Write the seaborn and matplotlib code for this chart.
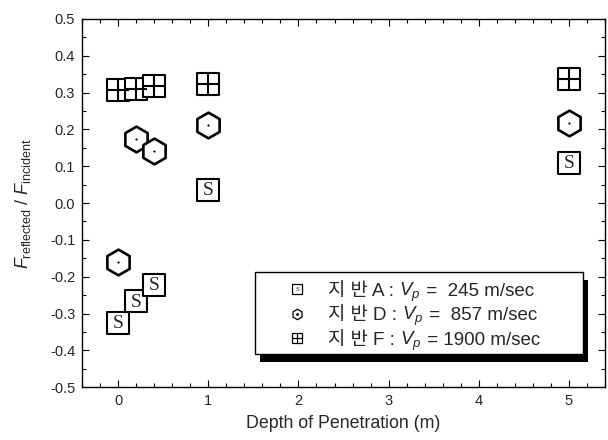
import matplotlib
matplotlib.use("Agg")
import matplotlib.pyplot as plt
import seaborn as sns
import pandas as pd
from matplotlib.lines import Line2D
from matplotlib.text import Text
from matplotlib.patches import Rectangle
from matplotlib.offsetbox import AnchoredOffsetbox, HPacker, VPacker, TextArea, DrawingArea

# ---- data ----
depth = [0.0, 0.2, 0.4, 1.0, 5.0]
ground_A = [-0.326, -0.267, -0.222, 0.035, 0.110]   # Vp = 245 m/sec
ground_D = [-0.160, 0.175, 0.142, 0.213, 0.218]      # Vp = 857 m/sec
ground_F = [0.308, 0.310, 0.318, 0.323, 0.336]       # Vp = 1900 m/sec
label_names = ["지 반 A : ", "지 반 D : ", "지 반 F : "]
label_vals = ["=  245 m/sec", "=  857 m/sec", "= 1900 m/sec"]
xticks = [0, 1, 2, 3, 4, 5]
yticks = [-0.5, -0.4, -0.3, -0.2, -0.1, 0.0, 0.1, 0.2, 0.3, 0.4, 0.5]

sns.set_style("ticks")
FAM = ['Liberation Sans', 'Noto Sans CJK KR', 'DejaVu Sans']
plt.rcParams['font.family'] = FAM
plt.rcParams['mathtext.fontset'] = 'custom'
plt.rcParams['mathtext.rm'] = 'Liberation Sans'
plt.rcParams['mathtext.it'] = 'Liberation Sans:italic'
plt.rcParams['mathtext.bf'] = 'Liberation Sans:bold'

fig = plt.figure(figsize=(6.08, 4.40), dpi=100)
AX = [0.135, 0.120, 0.860, 0.837]
ax = fig.add_axes(AX)

df = pd.DataFrame({"x": depth, "A": ground_A, "D": ground_D, "F": ground_F})

SQ = 15.5
HX = 18.5
kw = dict(facecolor="white", edgecolor="black", legend=False, zorder=3)
# ground A: boxed S
sns.scatterplot(data=df, x="x", y="A", marker="s", s=SQ**2, linewidth=1.5, ax=ax, **kw)
for xv, yv in zip(df["x"], df["A"]):
    ax.text(xv, yv - 0.002, "S", ha="center", va="center", family="Liberation Serif",
            fontsize=14, zorder=4)
# ground D: hexagon with centre dot
sns.scatterplot(data=df, x="x", y="D", marker="h", s=HX**2, linewidth=1.9, ax=ax, **kw)
sns.scatterplot(data=df, x="x", y="D", marker="o", s=2.5, color="black",
                linewidth=0, legend=False, zorder=4, ax=ax)
# ground F: crossed square
sns.scatterplot(data=df, x="x", y="F", marker="s", s=SQ**2, linewidth=1.5, ax=ax, **kw)
sns.scatterplot(data=df, x="x", y="F", marker="+", s=SQ**2, color="black",
                linewidth=1.5, legend=False, zorder=4, ax=ax)

ax.set_xlim(-0.4, 5.4)
ax.set_ylim(-0.5, 0.5)
ax.set_xticks(xticks)
ax.set_yticks(yticks)
ax.set_yticklabels([f"{v:.1f}" for v in yticks])
ax.xaxis.set_minor_locator(matplotlib.ticker.MultipleLocator(0.2))
ax.yaxis.set_minor_locator(matplotlib.ticker.MultipleLocator(0.05))
ax.tick_params(which="both", direction="in", top=True, right=True, labelsize=10.5,
               color="black", width=0.8)
ax.tick_params(which="major", length=5, pad=5)
ax.tick_params(which="minor", length=3)
for sp in ax.spines.values():
    sp.set_linewidth(1.0)
    sp.set_color("black")

ax.set_xlabel("Depth of Penetration (m)", fontsize=12.8, labelpad=5)
ax.set_ylabel(r"$F_{\mathrm{reflected}}$ / $F_{\mathrm{incident}}$", fontsize=13, labelpad=12)

# ---- legend (custom box with frame and solid shadow) ----
lx0, lx1, ly0, ly1 = 0.331, 0.958, 0.090, 0.3125
dx = 5 / (AX[2] * 608)
dy = 8 / (AX[3] * 440)
ax.add_patch(Rectangle((lx0 + dx, ly0 - dy), lx1 - lx0, ly1 - ly0, transform=ax.transAxes,
                       facecolor="black", edgecolor="none", zorder=5, clip_on=False))
ax.add_patch(Rectangle((lx0, ly0), lx1 - lx0, ly1 - ly0, transform=ax.transAxes,
                       facecolor="white", edgecolor="black", linewidth=1.0, zorder=5.5,
                       clip_on=False))

def swatch(kind):
    da = DrawingArea(12, 12, 0, 0)
    cx, cy = 6, 4.8
    if kind == "A":
        da.add_artist(Line2D([cx], [cy], ls="", marker="s", ms=6.5, mfc="white",
                             mec="black", mew=0.9))
        da.add_artist(Text(cx, cy - 0.2, "S", fontsize=5, ha="center", va="center",
                           family="Liberation Serif"))
    elif kind == "D":
        da.add_artist(Line2D([cx], [cy], ls="", marker="h", ms=7.5, mfc="white",
                             mec="black", mew=0.9))
        da.add_artist(Line2D([cx], [cy], ls="", marker="o", ms=1, color="black"))
    else:
        da.add_artist(Line2D([cx], [cy], ls="", marker="s", ms=6.5, mfc="white",
                             mec="black", mew=0.9))
        da.add_artist(Line2D([cx], [cy], ls="", marker="+", ms=6.5, color="black",
                             mew=0.9))
    return da

tp = dict(fontsize=13.5, family=FAM)
rows = []
for kind, nm, val in zip(["A", "D", "F"], label_names, label_vals):
    txt = HPacker(children=[TextArea(nm, textprops=tp),
                            TextArea(r"$V_p$", textprops=dict(fontsize=13.5)),
                            TextArea(" " + val, textprops=tp)],
                  align="baseline", pad=0, sep=0)
    rows.append(HPacker(children=[swatch(kind), txt], align="baseline", pad=0, sep=16))
vbox = VPacker(children=rows, align="left", pad=0, sep=0)
box = AnchoredOffsetbox(loc="center left", child=vbox, pad=0, borderpad=0,
                        frameon=False, bbox_to_anchor=(0.396, 0.193),
                        bbox_transform=ax.transAxes)
box.set_zorder(6)
ax.add_artist(box)

fig.savefig("out.png", dpi=100)
